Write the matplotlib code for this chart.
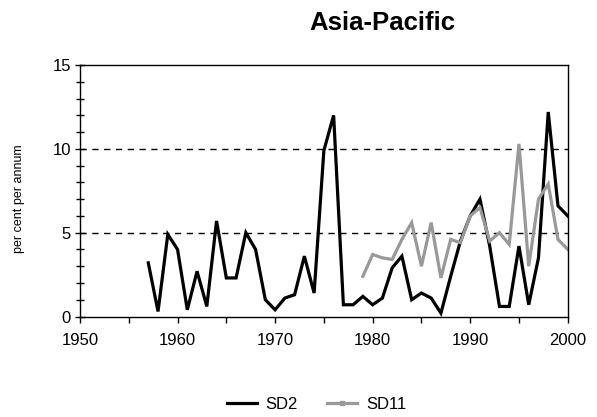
import numpy as np
import matplotlib
matplotlib.use("Agg")
import matplotlib.pyplot as plt
from matplotlib.lines import Line2D
from matplotlib.ticker import MultipleLocator

plt.rcParams["font.family"] = ["Liberation Sans", "DejaVu Sans"]

# --- data ------------------------------------------------------------------
sd2_years = list(range(1957, 2001))
sd2_vals = [3.2, 0.3, 4.9, 4.0, 0.4, 2.7, 0.6, 5.7, 2.3, 2.3,
            5.0, 4.0, 1.0, 0.4, 1.1, 1.3, 3.6, 1.4, 9.9, 12.0,
            0.7, 0.7, 1.2, 0.7, 1.1, 2.9, 3.6, 1.0, 1.4, 1.1,
            0.2, 2.4, 4.5, 6.0, 7.0, 4.2, 0.6, 0.6, 4.2, 0.7,
            3.5, 12.2, 6.6, 6.0]

sd11_years = list(range(1979, 2001))
sd11_vals = [2.4, 3.7, 3.5, 3.4, 4.6, 5.6, 3.0, 5.6, 2.3, 4.6,
             4.4, 6.0, 6.5, 4.5, 5.0, 4.3, 10.3, 3.0, 7.0, 7.9,
             4.6, 4.0]

title = "Asia-Pacific"
ylabel = "per cent per annum"

# --- figure -----------------------------------------------------------------
fig = plt.figure(figsize=(5.97, 4.17), dpi=100)
ax = fig.add_axes([0.134, 0.241, 0.817, 0.603])

ax.plot(sd2_years, sd2_vals, color="black", lw=2.3, solid_joinstyle="miter")
ax.plot(sd11_years, sd11_vals, color="#999999", lw=2.3, solid_joinstyle="miter")

ax.set_xlim(1950, 2000)
ax.set_ylim(0, 15)
ax.xaxis.set_major_locator(MultipleLocator(10))
ax.xaxis.set_minor_locator(MultipleLocator(5))
ax.yaxis.set_major_locator(MultipleLocator(5))
ax.yaxis.set_minor_locator(MultipleLocator(1))

ax.tick_params(axis="x", which="both", direction="out", length=4, width=1,
               labelsize=12, pad=8)
ax.tick_params(axis="y", which="major", direction="inout", length=7, width=1,
               labelsize=12, pad=3)
ax.tick_params(axis="y", which="minor", direction="inout", length=5.5, width=1)

for v in (5, 10):
    ax.axhline(v, color="black", lw=1.0, dashes=(4.5, 4), zorder=0.5)

for sp in ax.spines.values():
    sp.set_linewidth(1.0)
    sp.set_color("black")

fig.text(0.641, 0.945, title, ha="center", va="center", fontsize=18.5,
         fontweight="bold")
fig.text(0.031, 0.523, ylabel, rotation=90, ha="center", va="center",
         fontsize=9)

# legend: SD11 key carries a small square as in the reference
handles = [Line2D([], [], color="black", lw=2.3),
           Line2D([], [], color="#999999", lw=2.3, marker="s", markersize=3)]
fig.legend(handles, ["SD2", "SD11"], loc="center", bbox_to_anchor=(0.53, 0.031),
           ncol=2, frameon=False, fontsize=12, handlelength=1.8,
           handletextpad=0.5, columnspacing=1.8)

fig.savefig("out.png", dpi=100)
